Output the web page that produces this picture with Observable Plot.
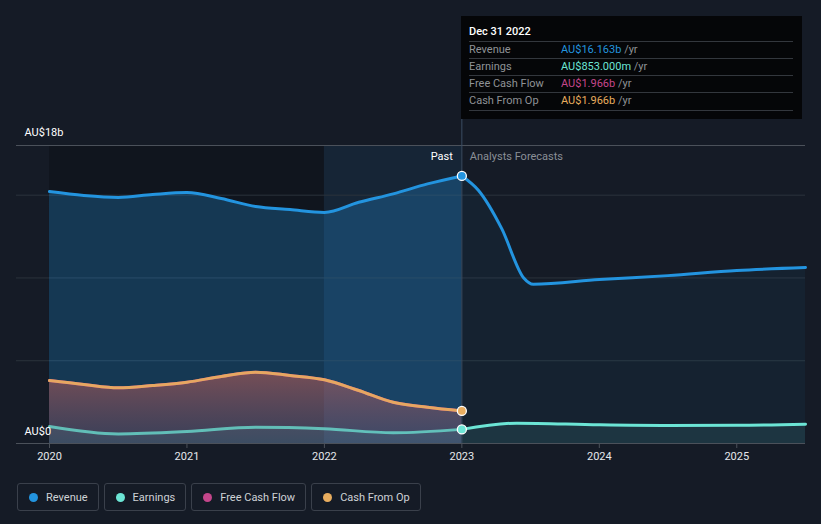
<!DOCTYPE html>
<html><head><meta charset="utf-8">
<script src="https://cdn.jsdelivr.net/npm/d3@7"></script>
<script src="https://cdn.jsdelivr.net/npm/@observablehq/plot@0.6"></script>
<style>
body{margin:0;background:#151b26;font-family:Roboto,"Open Sans",sans-serif;}
#wrap{position:relative;width:821px;height:524px;overflow:hidden;background:#151b26}
#tip{position:absolute;left:461px;top:16px;width:341px;height:103px;background:#050608;color:#fff;font-size:11px}
#tip .title{position:absolute;left:8px;top:9px;font-weight:500;font-size:11px;color:#fff}
#tip .sep{position:absolute;left:8px;width:324px;height:1px;background:#33373d}
#tip .row{position:absolute;left:8px;font-size:11px;color:#8f9296;white-space:nowrap}
#tip .row span.v{position:absolute;left:92px}
#tip .row span.u{color:#8f9296}
#legend{position:absolute;left:17px;top:483px;display:flex;gap:5px}
#legend .item{box-sizing:border-box;height:28px;border:1px solid #3a404b;border-radius:3px;display:flex;align-items:center;padding:0 10px 0 10px;color:#cfd2d6;font-size:11px}
#legend .dot{width:9px;height:9px;border-radius:50%;margin-right:8px;margin-left:1px}
</style></head><body>
<div id="wrap"><div id="chart"></div><div id="tip"></div><div id="legend"></div></div>
<script>
// ---- data (AU$ billions) ----
const revenuePastYears = [2020, 2020.25, 2020.5, 2020.75, 2021, 2021.25, 2021.5, 2021.75, 2022, 2022.25, 2022.5, 2022.75, 2023];
const revenuePast = [15.22, 14.98, 14.86, 15.04, 15.16, 14.8, 14.31, 14.13, 13.96, 14.57, 15.08, 15.68, 16.163];
const revenueForecastYears = [2023, 2023.12, 2023.29, 2023.45, 2023.52, 2024, 2024.5, 2025, 2025.5];
const revenueForecast = [16.163, 15.3, 12.98, 10.0, 9.62, 9.9, 10.14, 10.45, 10.63];

const earningsPastYears = [2020, 2020.5, 2021, 2021.5, 2022, 2022.5, 2023];
const earningsPast = [1.03, 0.58, 0.72, 0.98, 0.89, 0.65, 0.853];
const earningsForecastYears = [2023, 2023.4, 2024, 2024.5, 2025, 2025.5];
const earningsForecast = [0.853, 1.23, 1.13, 1.09, 1.1, 1.17];

const cashPastYears = [2020, 2020.25, 2020.5, 2020.75, 2021, 2021.25, 2021.5, 2021.75, 2022, 2022.25, 2022.5, 2022.75, 2023];
const cashFromOp = [3.8, 3.56, 3.36, 3.5, 3.7, 4.05, 4.31, 4.11, 3.85, 3.2, 2.49, 2.19, 1.966];
const freeCashFlow = [3.8, 3.56, 3.36, 3.5, 3.7, 4.05, 4.31, 4.11, 3.85, 3.2, 2.49, 2.19, 1.966];

const xTicks = [2020, 2021, 2022, 2023, 2024, 2025];
const gridValues = [5, 10, 15];
const yTop = 18;
const xDomain = [2019.76, 2025.5];
const pastEnd = 2023;
const highlightStart = 2022;

const seriesNames = ["Revenue", "Earnings", "Free Cash Flow", "Cash From Op"];
const seriesColors = ["#2394df", "#6ce5d5", "#c4468b", "#e8ad5f"];
const tipDate = "Dec 31 2022";
const tipValues = ["AU$16.163b", "AU$853.000m", "AU$1.966b", "AU$1.966b"];

// ---- tables ----
const zip = (xs, ys) => xs.map((x, i) => ({x, y: ys[i]}));
const revP = zip(revenuePastYears, revenuePast);
const revF = zip(revenueForecastYears, revenueForecast);
const earnP = zip(earningsPastYears, earningsPast);
const earnF = zip(earningsForecastYears, earningsForecast);
const cfo = zip(cashPastYears, cashFromOp);
const fcf = zip(cashPastYears, freeCashFlow);
const markers = [
  {x: pastEnd, y: revenuePast[revenuePast.length - 1], c: seriesColors[0]},
  {x: pastEnd, y: cashFromOp[cashFromOp.length - 1], c: seriesColors[3]},
  {x: pastEnd, y: earningsPast[earningsPast.length - 1], c: seriesColors[1]}
];

const defs = () => {
  const svg = d3.create("svg:g");
  const d = svg.append("defs");
  const g = d.append("linearGradient").attr("id", "cfoGrad").attr("x1", 0).attr("x2", 0).attr("y1", 0).attr("y2", 1);
  g.append("stop").attr("offset", "0%").attr("stop-color", "#e0675a").attr("stop-opacity", 0.48);
  g.append("stop").attr("offset", "100%").attr("stop-color", "#b85a6a").attr("stop-opacity", 0.22);
  return svg.node();
};

const curve = "monotone-x";
const chart = Plot.plot({
  width: 821,
  height: 475,
  marginLeft: 16,
  marginRight: 16,
  marginTop: 145,
  marginBottom: 32,
  style: {background: "transparent", color: "#e6e8eb", fontSize: "11px", fontFamily: "Roboto, sans-serif"},
  x: {domain: xDomain, ticks: xTicks, tickFormat: d => String(d), tickSize: 5, tickPadding: 4, label: null},
  y: {domain: [0, yTop], axis: null},
  marks: [
    defs,
    Plot.rectX([{x1: revenuePastYears[0], x2: highlightStart}], {x1: "x1", x2: "x2", y1: 0, y2: yTop, fill: "#000", fillOpacity: 0.2}),
    Plot.rectX([{x1: highlightStart, x2: pastEnd}], {x1: "x1", x2: "x2", y1: 0, y2: yTop, fill: "#2394df", fillOpacity: 0.09}),
    Plot.ruleY(gridValues, {stroke: "#2b323c", strokeWidth: 1}),
    Plot.ruleY([yTop], {stroke: "#4b515a", strokeWidth: 1}),
    Plot.areaY(revP, {x: "x", y1: 0, y2: "y", curve, fill: "#2394df", fillOpacity: 0.28}),
    Plot.areaY(revF, {x: "x", y1: 0, y2: "y", curve, fill: "#2394df", fillOpacity: 0.06}),
    Plot.areaY(cfo, {x: "x", y1: 0, y2: "y", curve, fill: "url(#cfoGrad)"}),
    Plot.areaY(earnP, {x: "x", y1: 0, y2: "y", curve, fill: "#6ce5d5", fillOpacity: 0.08}),
    Plot.areaY(earnF, {x: "x", y1: 0, y2: "y", curve, fill: "#6ce5d5", fillOpacity: 0.1}),
    Plot.ruleY([0], {stroke: "#4b515a", strokeWidth: 1}),
    Plot.ruleX([pastEnd], {y1: 0, y2: 19.57, stroke: "#3b4d62", strokeWidth: 1}),
    Plot.line(revP, {x: "x", y: "y", curve, stroke: seriesColors[0], strokeWidth: 3}),
    Plot.line(revF, {x: "x", y: "y", curve, stroke: seriesColors[0], strokeWidth: 3}),
    Plot.line(fcf, {x: "x", y: "y", curve, stroke: seriesColors[2], strokeWidth: 3}),
    Plot.line(cfo, {x: "x", y: "y", curve, stroke: seriesColors[3], strokeWidth: 3, strokeOpacity: 0.95}),
    Plot.line(earnP, {x: "x", y: "y", curve, stroke: seriesColors[1], strokeWidth: 3, strokeOpacity: 0.75}),
    Plot.line(earnF, {x: "x", y: "y", curve, stroke: seriesColors[1], strokeWidth: 3}),
    Plot.dot(markers, {x: "x", y: "y", r: 4.5, fill: "c", stroke: "#fff", strokeWidth: 1.3}),
    Plot.text(["Past"], {x: pastEnd, y: yTop, dx: -9, dy: 11, text: d => d, textAnchor: "end", fill: "#ffffff", fontSize: 11}),
    Plot.text(["Analysts Forecasts"], {x: pastEnd, y: yTop, dx: 8, dy: 11, text: d => d, textAnchor: "start", fill: "#8a8f96", fontSize: 11}),
    Plot.text(["AU$18b"], {x: xDomain[0], y: yTop, dx: 8, dy: -13, text: d => d, textAnchor: "start", fill: "#ffffff", fontSize: 11}),
    Plot.text(["AU$0"], {x: xDomain[0], y: 0, dx: 8, dy: -12, text: d => d, textAnchor: "start", fill: "#ffffff", fontSize: 11}),
    Plot.axisX({ticks: xTicks, tickFormat: d => String(d), tickSize: 5, tickPadding: 4, stroke: "#4b515a", fill: "#e6e8eb", fontSize: 11})
  ]
});
document.getElementById("chart").append(chart);

const tip = document.getElementById("tip");
let html = `<div class="title">${tipDate}</div>`;
const sepTops = [25, 42, 59, 76, 94];
sepTops.forEach(t => html += `<div class="sep" style="top:${t}px"></div>`);
seriesNames.forEach((n, i) => {
  html += `<div class="row" style="top:${27 + i * 17}px">${n}<span class="v"><span style="color:${seriesColors[i]}">${tipValues[i]}</span> <span class="u">/yr</span></span></div>`;
});
tip.innerHTML = html;

const legend = document.getElementById("legend");
seriesNames.forEach((n, i) => {
  const it = document.createElement("div");
  it.className = "item";
  it.innerHTML = `<span class="dot" style="background:${seriesColors[i]}"></span>${n}`;
  legend.append(it);
});
</script></body></html>
